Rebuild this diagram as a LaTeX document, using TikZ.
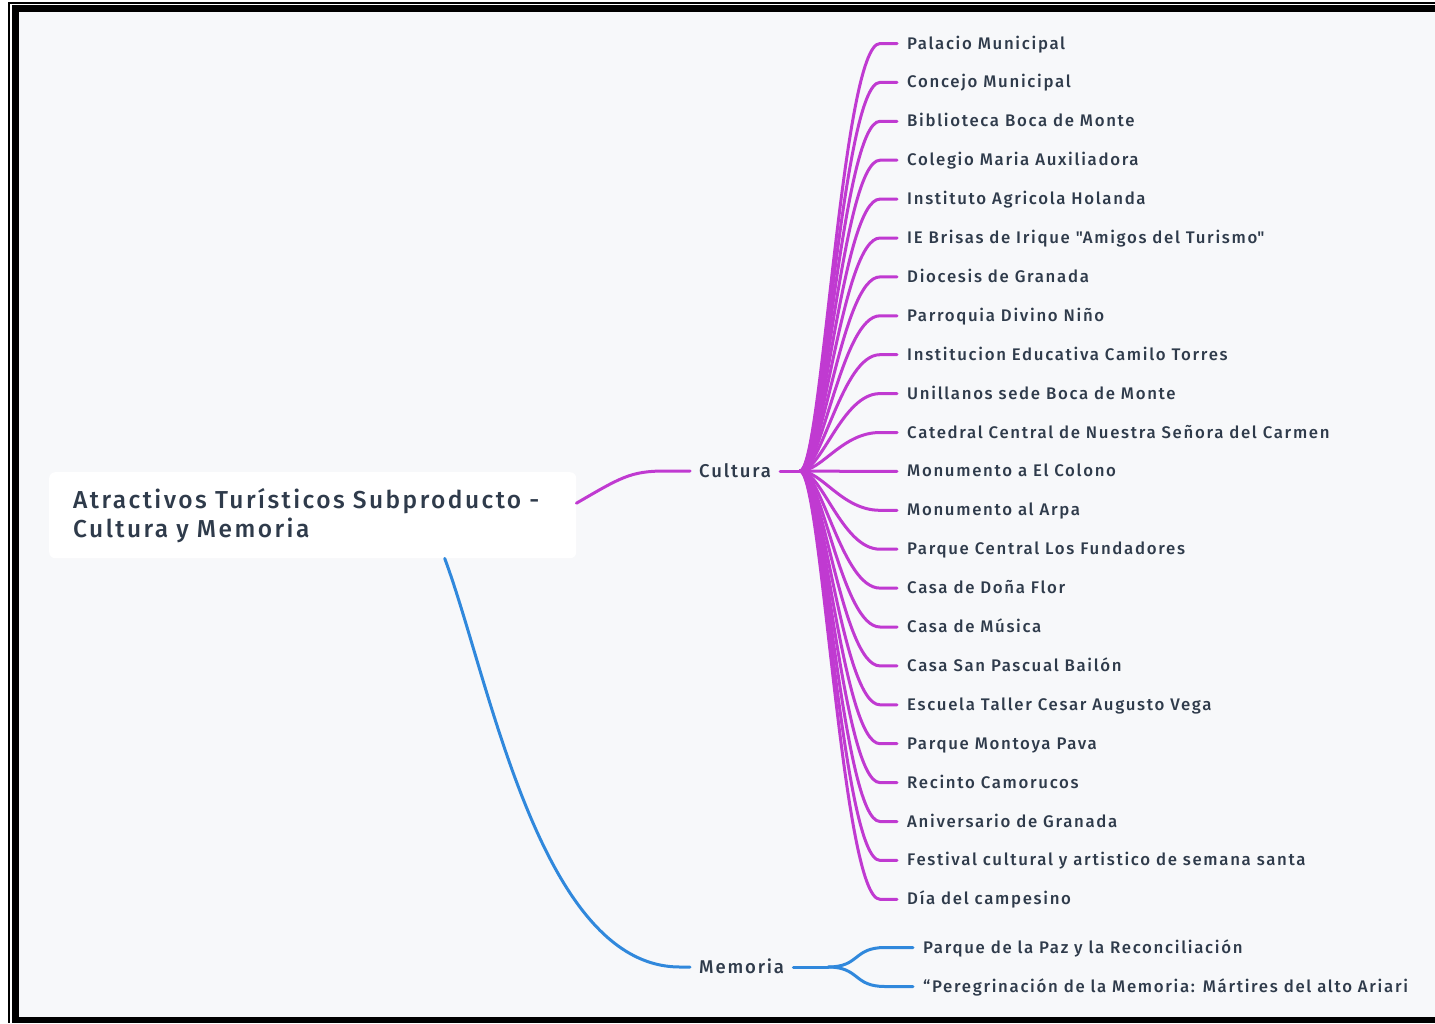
\documentclass[tikz,border=0pt]{standalone}
\usepackage{fontspec}
\setmainfont{Fira Sans}[UprightFont=* Medium,LetterSpace=10]
\usepackage{xcolor}
\usepackage{tikz}
\usetikzlibrary{positioning}

\definecolor{bgpaper}{HTML}{F7F8FA}
\definecolor{inkdark}{HTML}{2F3B4B}
\definecolor{cultpurple}{HTML}{C03AD1}
\definecolor{memblue}{HTML}{3088DC}

\begin{document}
\begin{tikzpicture}[x=1pt,y=-1pt,
   root/.style={fill=white,rounded corners=6pt,anchor=north west,minimum width=527pt,
                minimum height=86pt,text width=479pt,inner xsep=24pt,align=left,
                font=\fontsize{24.5}{29}\selectfont,text=inkdark},
   topic/.style={anchor=west,inner xsep=9pt,inner ysep=0pt,text height=12pt,text depth=0pt,
                 font=\fontsize{18.5}{20}\selectfont,text=inkdark},
   leaf/.style={anchor=west,inner xsep=10pt,inner ysep=0pt,text height=11pt,text depth=0pt,
                font=\fontsize{16.8}{18}\selectfont,text=inkdark},
   cline/.style={cultpurple,line width=3pt,line cap=round},
   mline/.style={memblue,line width=3pt,line cap=round}]
  % page, frame
  \useasboundingbox (0,0) rectangle (1435,1023);
  \fill[white] (0,0) rectangle (1435,1023);
  \fill[bgpaper] (19,12) rectangle (1435,1017);
  \fill[black] (8,2) rectangle (1435,3.5);
  \fill[black] (8,2) rectangle (9.5,1023);
  \fill[black] (12,5) rectangle (1435,12);
  \fill[black] (12,5) rectangle (19,1023);
  \fill[black] (12,1017) rectangle (1435,1023);

  % main topics
  \node[root] (root) at (49,472) {Atractivos Turísticos Subproducto -\\Cultura y Memoria};
  \node[topic] (cultura) at (690,471) {Cultura};
  \node[topic] (memoria) at (690,967) {Memoria};
  \coordinate (cfork) at (800,471);
  \coordinate (mfork) at (828,967);

  \draw[cline] ([yshift=12pt]root.east) .. controls (620,478) and (630,471) .. (665,471)
     -- (cultura.west);
  \draw[mline] ([xshift=132pt]root.south) .. controls (490,680) and (540,967) .. (680,967)
     -- (memoria.west);

  % Cultura
  \draw[cline] (cultura.east) -- (cfork);
  \foreach \txt [count=\i] in {Palacio Municipal,Concejo Municipal,Biblioteca Boca de Monte,
      Colegio Maria Auxiliadora,Instituto Agricola Holanda,
      IE Brisas de Irique \textquotedbl Amigos del Turismo\textquotedbl,Diocesis de Granada,
      Parroquia Divino Niño,Institucion Educativa Camilo Torres,Unillanos sede Boca de Monte,
      Catedral Central de Nuestra Señora del Carmen,Monumento a El Colono,Monumento al Arpa,
      Parque Central Los Fundadores,Casa de Doña Flor,Casa de Música,Casa San Pascual Bailón,
      Escuela Taller Cesar Augusto Vega,Parque Montoya Pava,Recinto Camorucos,
      Aniversario de Granada,Festival cultural y artistico de semana santa,Día del campesino}{
    \node[leaf] (c\i) at (897,{43.5+38.9*(\i-1)}) {\txt};
    \draw[cline] (cfork) .. controls +(22,0) and +(-38,0) .. ([xshift=-17pt]c\i.west)
       -- (c\i.west);
  }

  % Memoria
  \node[leaf] (m1) at (913,947.5) {Parque de la Paz y la Reconciliación};
  \node[leaf] (m2) at (913,986.5) {“Peregrinación de la Memoria: Mártires del alto Ariari};
  \draw[mline] (memoria.east) -- (mfork);
  \draw[mline] (mfork) .. controls +(32,0) and +(-32,0) .. ([xshift=-28pt]m1.west) -- (m1.west);
  \draw[mline] (mfork) .. controls +(32,0) and +(-32,0) .. ([xshift=-28pt]m2.west) -- (m2.west);
\end{tikzpicture}
\end{document}
